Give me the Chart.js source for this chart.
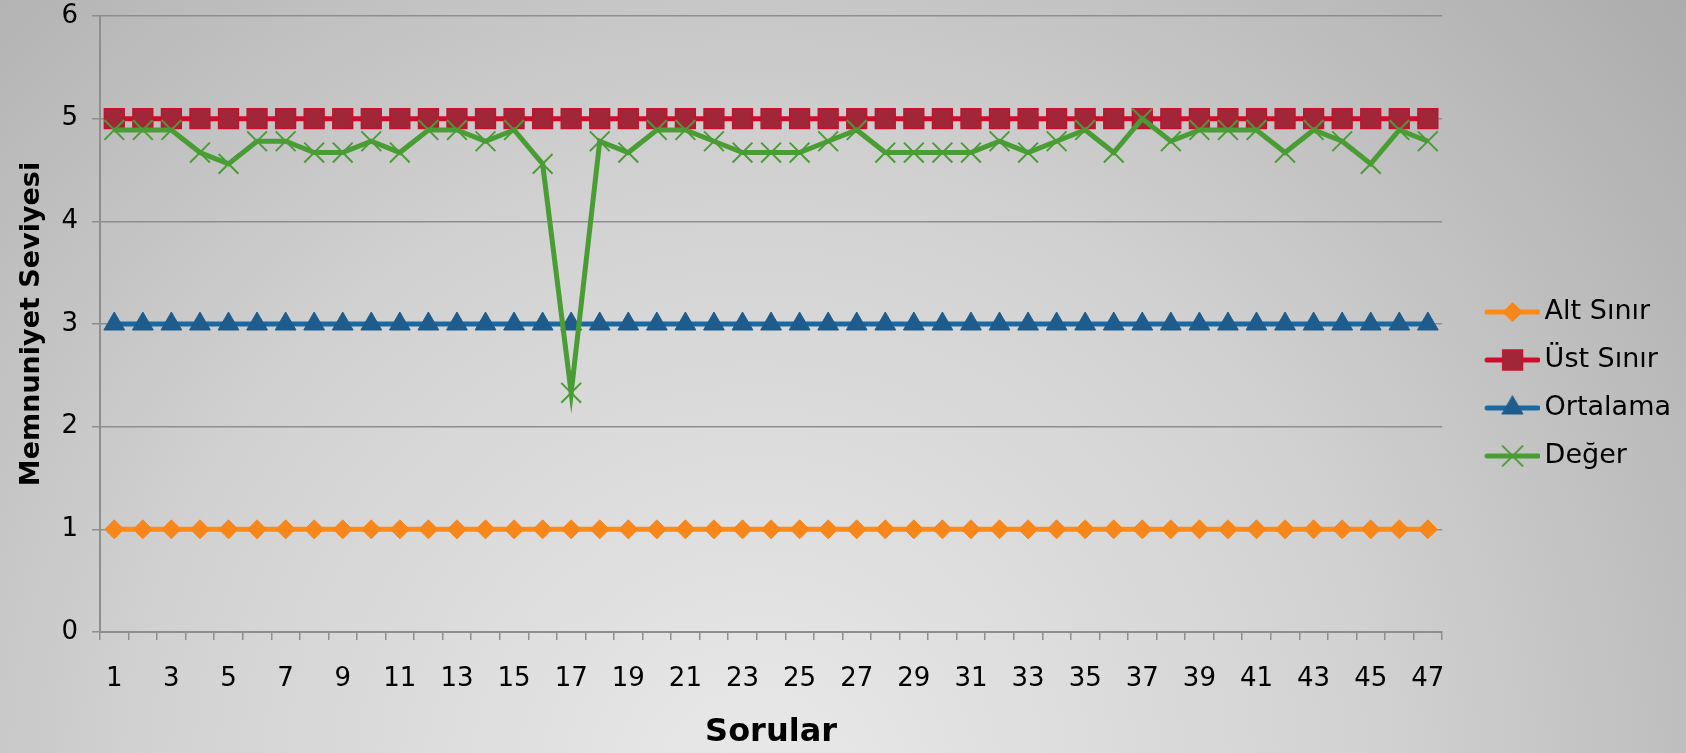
<!DOCTYPE html>
<html>
<head>
<meta charset="utf-8">
<script src="https://cdn.jsdelivr.net/npm/chart.js@4"></script>
<style>
  html, body { margin: 0; padding: 0; background: #d0d0d0; }
  canvas { display: block; }
</style>
</head>
<body>
<canvas id="chart" width="1686" height="753"></canvas>
<script>
// Soru numaraları
const sorular = [1, 2, 3, 4, 5, 6, 7, 8, 9, 10, 11, 12, 13, 14, 15, 16, 17, 18, 19, 20,
    21, 22, 23, 24, 25, 26, 27, 28, 29, 30, 31, 32, 33, 34, 35, 36, 37, 38, 39, 40,
    41, 42, 43, 44, 45, 46, 47];

// Seriler
const altSinir = [1, 1, 1, 1, 1, 1, 1, 1, 1, 1, 1, 1, 1, 1, 1, 1, 1, 1, 1, 1,
    1, 1, 1, 1, 1, 1, 1, 1, 1, 1, 1, 1, 1, 1, 1, 1, 1, 1, 1, 1,
    1, 1, 1, 1, 1, 1, 1];
const ustSinir = [5, 5, 5, 5, 5, 5, 5, 5, 5, 5, 5, 5, 5, 5, 5, 5, 5, 5, 5, 5,
    5, 5, 5, 5, 5, 5, 5, 5, 5, 5, 5, 5, 5, 5, 5, 5, 5, 5, 5, 5,
    5, 5, 5, 5, 5, 5, 5];
const ortalama = [3, 3, 3, 3, 3, 3, 3, 3, 3, 3, 3, 3, 3, 3, 3, 3, 3, 3, 3, 3,
    3, 3, 3, 3, 3, 3, 3, 3, 3, 3, 3, 3, 3, 3, 3, 3, 3, 3, 3, 3,
    3, 3, 3, 3, 3, 3, 3];
const deger = [4.89, 4.89, 4.89, 4.67, 4.56, 4.78, 4.78, 4.67, 4.67, 4.78,
    4.67, 4.89, 4.89, 4.78, 4.89, 4.56, 2.33, 4.78, 4.67, 4.89,
    4.89, 4.78, 4.67, 4.67, 4.67, 4.78, 4.89, 4.67, 4.67, 4.67,
    4.67, 4.78, 4.67, 4.78, 4.89, 4.67, 5.00, 4.78, 4.89, 4.89,
    4.89, 4.67, 4.89, 4.78, 4.56, 4.89, 4.78];

// Eksen tick değerleri
const yTicks = [0, 1, 2, 3, 4, 5, 6];

const fontAile = "'DejaVu Sans', Verdana, sans-serif";
const gridRenk = '#8e8e8e';

// Seri stilleri
const stiller = [
    { label: 'Alt Sınır', line: '#ff8a16', fill: '#f7871a', border: '#f7871a', style: 'rectRot', r: 9.5, bw: 1 },
    { label: 'Üst Sınır', line: '#cc0e2c', fill: '#a02638', border: '#c8102e', style: 'rect', r: 14, bw: 1.5 },
    { label: 'Ortalama', line: '#1b69a2', fill: '#1d5c8c', border: '#1d5c8c', style: 'triangle', r: 12, bw: 1 },
    { label: 'Değer', line: '#4a9c34', fill: '#4a9c34', border: '#4a9c34', style: 'crossRot', r: 14, bw: 2 }
];

// Lejant için çizgi + işaret resmi
function lejantResmi(s) {
    const c = document.createElement('canvas');
    c.width = 86;
    c.height = 30;
    const ctx = c.getContext('2d');
    ctx.strokeStyle = s.line;
    ctx.lineWidth = 5;
    ctx.lineCap = 'round';
    ctx.beginPath();
    ctx.moveTo(33, 15);
    ctx.lineTo(84, 15);
    ctx.stroke();
    ctx.fillStyle = s.fill;
    ctx.strokeStyle = s.border;
    ctx.lineWidth = s.bw;
    Chart.helpers.drawPoint(ctx, { pointStyle: s.style, radius: s.r, borderWidth: s.bw, rotation: 0 }, 58.5, 15);
    return c;
}

// Arka plan gradyanı
const arkaPlan = {
    id: 'arkaPlan',
    beforeDraw(chart) {
        const { ctx, width, height } = chart;
        const g = ctx.createRadialGradient(width * 0.45, height * 1.05, 0, width * 0.45, height * 1.05, width * 0.72);
        g.addColorStop(0, '#e9e9e9');
        g.addColorStop(0.5, '#d2d2d2');
        g.addColorStop(1, '#acacac');
        ctx.save();
        ctx.fillStyle = g;
        ctx.fillRect(0, 0, width, height);
        ctx.restore();
    }
};

const seriVerileri = [altSinir, ustSinir, ortalama, deger];

const datasets = stiller.map((s, i) => ({
    label: s.label,
    data: seriVerileri[i],
    borderColor: s.line,
    borderWidth: 5,
    backgroundColor: s.fill,
    pointStyle: s.style,
    pointRadius: s.r,
    pointBackgroundColor: s.fill,
    pointBorderColor: s.border,
    pointBorderWidth: s.bw,
    tension: 0,
    fill: false,
    order: 4 - i
}));

const resimler = stiller.map(lejantResmi);

new Chart(document.getElementById('chart').getContext('2d'), {
    type: 'line',
    data: { labels: sorular, datasets: datasets },
    plugins: [arkaPlan],
    options: {
        responsive: false,
        animation: false,
        layout: { padding: { top: 15, right: 5, bottom: 0, left: 0 } },
        plugins: {
            tooltip: { enabled: false },
            legend: {
                position: 'right',
                maxWidth: 260,
                labels: {
                    usePointStyle: true,
                    pointStyleWidth: 68,
                    padding: 21,
                    color: '#000',
                    font: { family: fontAile, size: 27 },
                    generateLabels(chart) {
                        return chart.data.datasets.map((ds, i) => ({
                            text: ds.label,
                            pointStyle: resimler[i],
                            fillStyle: ds.borderColor,
                            strokeStyle: ds.borderColor,
                            lineWidth: 0,
                            hidden: false,
                            datasetIndex: i
                        }));
                    }
                }
            }
        },
        scales: {
            x: {
                offset: true,
                afterFit(scale) { scale.height = 121; },
                grid: {
                    offset: true,
                    drawOnChartArea: false,
                    drawTicks: true,
                    tickLength: 8,
                    color: gridRenk,
                    lineWidth: 1.5
                },
                border: { display: true, color: gridRenk, width: 2 },
                ticks: {
                    autoSkip: false,
                    maxRotation: 0,
                    padding: 24,
                    color: '#000',
                    font: { family: fontAile, size: 26 },
                    callback(val, i) { return i % 2 === 0 ? sorular[i] : ''; }
                },
                title: {
                    display: true,
                    text: 'Sorular',
                    color: '#000',
                    font: { family: fontAile, size: 32, weight: 'bold' },
                    padding: { top: 4, bottom: 1 }
                }
            },
            y: {
                min: 0,
                max: 6,
                afterFit(scale) {
                    scale.width = 100;
                    scale.paddingTop = 0;
                    scale.paddingBottom = 0;
                },
                afterBuildTicks(scale) { scale.ticks = yTicks.map(v => ({ value: v })); },
                grid: {
                    drawTicks: true,
                    tickLength: 8,
                    color: gridRenk,
                    lineWidth: 1.5
                },
                border: { display: true, color: gridRenk, width: 2 },
                ticks: {
                    padding: 14,
                    color: '#000',
                    font: { family: fontAile, size: 26 }
                },
                title: {
                    display: true,
                    text: 'Memnuniyet Seviyesi',
                    color: '#000',
                    font: { family: fontAile, size: 27, weight: 'bold' },
                    padding: { top: 16, bottom: 4 }
                }
            }
        }
    }
});
</script>
</body>
</html>
